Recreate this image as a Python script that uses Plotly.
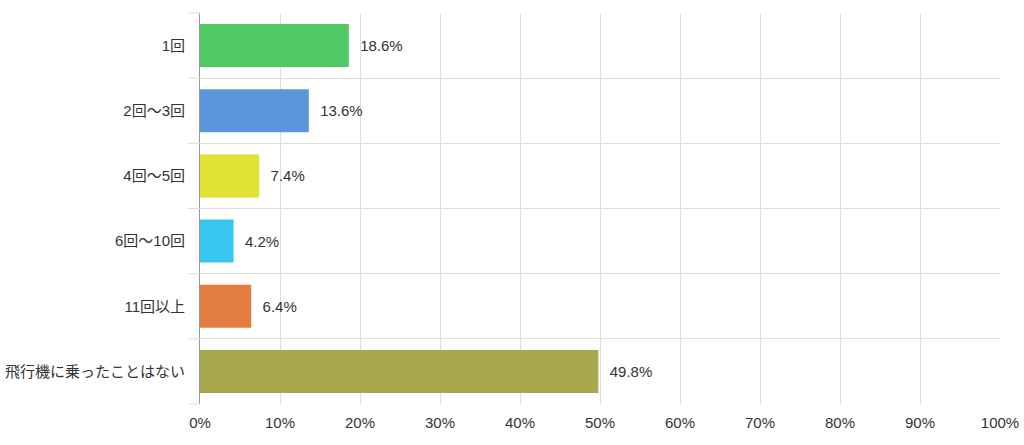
import plotly.graph_objects as go

# Survey: number of times flown on a plane
categories = ["1回", "2回～3回", "4回～5回", "6回～10回", "11回以上", "飛行機に乗ったことはない"]
percents = [18.6, 13.6, 7.4, 4.2, 6.4, 49.8]
bar_colors = ["#4fc866", "#5b96da", "#e1e334", "#36c6f0", "#e47e40", "#a7a84b"]
x_ticks = [0, 10, 20, 30, 40, 50, 60, 70, 80, 90, 100]

font_family = "Liberation Sans, Arial, Noto Sans CJK JP, sans-serif"

fig = go.Figure()
fig.add_trace(go.Bar(
    y=categories,
    x=percents,
    orientation="h",
    marker=dict(color=bar_colors, line=dict(width=0)),
    width=0.66,
    text=["  %.1f%%" % p for p in percents],
    textposition="outside",
    textfont=dict(size=15, color="#333333", family=font_family),
    cliponaxis=False,
    hoverinfo="skip",
))

# short grey ticks left of the axis at each category boundary
n = len(categories)
for i in range(n + 1):
    fig.add_shape(type="line", xref="paper", yref="paper",
                  x0=-0.015, x1=0, y0=1 - i / n, y1=1 - i / n,
                  line=dict(color="#dddddd", width=1), layer="above")

fig.update_layout(
    width=1024,
    height=445,
    margin=dict(l=200, r=24, t=13, b=41, autoexpand=False),
    paper_bgcolor="white",
    plot_bgcolor="white",
    showlegend=False,
    font=dict(family=font_family, size=15, color="#333333"),
)

fig.update_xaxes(
    range=[0, 100],
    tickvals=x_ticks,
    ticktext=["%d%%" % t for t in x_ticks],
    showgrid=True,
    gridcolor="#dddddd",
    gridwidth=1,
    zeroline=False,
    showline=False,
    ticks="",
    ticklabelstandoff=8,
    automargin=False,
    tickfont=dict(size=15, color="#333333"),
    fixedrange=True,
)

fig.update_yaxes(
    autorange="reversed",
    type="category",
    tickson="boundaries",
    showgrid=True,
    gridcolor="#dddddd",
    gridwidth=1,
    ticks="",
    ticklabelstandoff=11,
    showline=True,
    linecolor="#999999",
    linewidth=1,
    automargin=False,
    tickfont=dict(size=15, color="#333333"),
    fixedrange=True,
)

# drop the default page margin so the figure sits at the window's corner
fig.write_html("out.html", config={"displayModeBar": False},
               post_script="document.body.style.margin='0';")
